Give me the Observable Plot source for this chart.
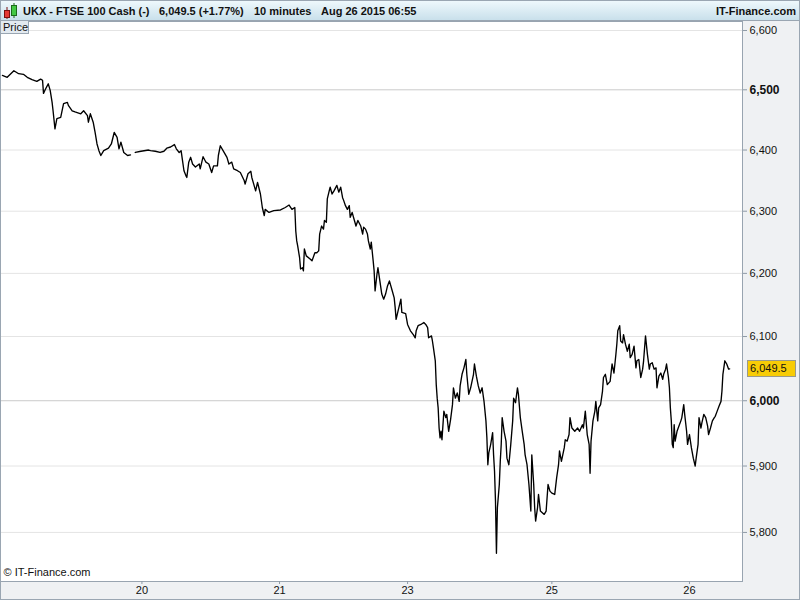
<!DOCTYPE html>
<html><head><meta charset="utf-8">
<script src="https://cdn.jsdelivr.net/npm/d3@7"></script>
<script src="https://cdn.jsdelivr.net/npm/@observablehq/plot@0.6"></script>
<style>
html,body{margin:0;padding:0;background:#fff;}
#wrap{position:relative;width:800px;height:600px;overflow:hidden;background:#eff1f3;font-family:"Liberation Sans",Arial,sans-serif;color:#111;}
#hdr{position:absolute;left:0;top:0;width:800px;height:21px;box-sizing:border-box;border-top:1px solid #9aa6b2;border-bottom:1px solid #9aa6b2;background:linear-gradient(#eef8fc,#c9e0eb);}
#hdr span{position:absolute;top:2px;font-weight:bold;font-size:11px;line-height:16px;white-space:nowrap;}
#hdr svg{position:absolute;left:2px;top:1px;}
#plotbox{position:absolute;left:0;top:21px;}
#price{position:absolute;left:0;top:21px;width:29px;height:13px;box-sizing:border-box;border:1px solid #9aa6b2;border-top:none;background:#e3eaf0;font-size:11px;line-height:12px;padding-left:2px;}
#last{position:absolute;left:747px;width:49px;height:17px;box-sizing:border-box;border:1px solid #9a9a8a;background:#f8cc06;font-size:11px;line-height:15px;padding-left:2px;}
#edge{position:absolute;left:0;top:0;width:800px;height:600px;box-sizing:border-box;border:1px solid #9aa6b2;pointer-events:none;}
</style>
</head><body>
<div id="wrap">
  <div id="hdr">
    <svg width="18" height="18" viewBox="0 0 18 18">
      <line x1="5" y1="5" x2="5" y2="17" stroke="#7a1010" stroke-width="1"/>
      <rect x="2.5" y="8.5" width="5" height="7" fill="#e53935" stroke="#7a1010"/>
      <line x1="12" y1="1" x2="12" y2="16" stroke="#1b6b1b" stroke-width="1"/>
      <rect x="9.5" y="3.5" width="5" height="10" fill="#43c843" stroke="#1b6b1b"/>
    </svg>
    <span id="t1" style="left:23px"></span>
    <span id="t2" style="left:159px"></span>
    <span id="t3" style="left:254px"></span>
    <span id="t4" style="left:321px"></span>
    <span id="t5" style="right:4px"></span>
  </div>
  <div id="plotbox"></div>
  <div id="price">Price</div>
  <div id="last"></div>
  <div id="edge"></div>
</div>
<script>
// ---- header texts ----
const instrument = "UKX - FTSE 100 Cash (-)";
const changePct = "+1.77%";
const interval = "10 minutes";
const stamp = "Aug 26 2015 06:55";
const brand = "IT-Finance.com";
const copyright = "\u00a9 IT-Finance.com";

// ---- x axis: 10-minute bar index (trading time) ----
const xDomain = [0, 776.5];
const xTickBars = [148, 292, 426, 577, 721];
const xTickLabels = ["20", "21", "23", "25", "26"];

// ---- y axis (log scale) ----
const yDomain = [5727.2, 6615.3];
const yTicks = [5800, 5900, 6000, 6100, 6200, 6300, 6400, 6500, 6600];
const yMajor = [6000, 6500];

// ---- series: bar index and price (null = gap) ----
const bars = [2,7,14,19,24,28,33,38,42,44,45,47,50,52,54,55,57,59,63,66,70,71,75,78,84,87,91,92,94,97,99,101,103,105,108,113,116,119,122,124,126,129,133,136,138,141,147,155,
157,162,167,171,174,178,182,184,187,189,190,192,194,195,197,199,201,204,208,209,212,215,218,221,223,227,228,230,234,237,239,242,244,248,251,255,256,259,262,263,265,267,269,272,274,276,277,281,286,293,298,302,305,308,309,310,311,313,314,
316,317,318,320,324,326,329,331,333,334,336,338,339,341,342,344,345,347,349,352,354,356,358,359,361,363,365,366,368,370,372,374,377,379,380,382,384,385,387,388,390,391,392,394,395,397,399,401,403,405,407,410,412,413,414,416,419,420,424,426,429,432,434,435,437,440,443,445,447,448,451,452,453,455,456,457,458,459,460,461,462,464,466,467,469,471,
473,474,476,478,480,481,483,485,487,488,490,492,495,496,498,500,502,504,506,508,509,510,511,513,515,516,517,518,519,520,522,523,524,525,527,529,530,532,534,536,537,539,541,542,544,546,548,549,551,553,555,556,558,559,560,562,563,565,569,571,573,575,577,580,582,584,585,587,590,591,593,595,596,598,601,604,606,609,610,612,614,616,617,618,620,622,623,625,626,628,
630,631,633,635,638,640,642,644,645,646,648,649,651,652,654,656,658,659,661,663,665,666,668,670,672,673,675,677,679,680,682,684,686,687,689,691,693,694,696,697,699,700,701,702,703,704,705,706,708,710,712,713,715,716,718,719,721,723,725,727,728,730,731,733,734,736,738,740,741,743,745,747,748,750,752,754,755,756,758,760,762,763];
const prices = [6524,6521,6532,6527,6526,6521,6517,6514,6518,6516,6494,6501,6510,6499,6479,6465,6435,6452,6454,6477,6479,6474,6465,6463,6460,6465,6457,6446,6460,6446,6429,6410,6399,6391,6399,6403,6410,6429,6421,6402,6413,6396,6391,6392,null,6396,6398,6400,
6399,6398,6396,6398,6403,6405,6409,6402,6396,6399,6388,6366,6358,6355,6380,6388,6377,6372,6377,6369,6389,6380,6377,6363,6374,6374,6391,6407,6396,6388,6377,6380,6369,6366,6363,6350,6344,6361,6365,6355,6344,6333,6347,6328,6306,6293,6303,6298,6301,6302,6306,6310,6303,6306,6268,6252,6244,6225,6207,
6209,6204,6239,6228,6223,6220,6233,6233,6236,6263,6276,6271,6285,6282,6320,6333,6339,6328,6333,6342,6331,6339,6322,6318,6309,6303,6309,6290,6298,6287,6276,6285,6276,6263,6274,6271,6263,6252,6239,6250,6220,6204,6172,6199,6209,6188,6167,6159,6167,6180,6188,6172,6161,6146,6127,6140,6159,6138,6136,6119,6109,6103,6098,6109,6117,6119,6122,6119,6114,6098,6101,6093,6083,6062,6025,6004,5989,5958,5943,5953,5940,5984,5974,5979,5953,5971,
5994,6020,6004,6012,5999,6023,6041,6051,6064,6041,6010,6020,6041,6057,6038,6023,6012,6020,5999,5969,5943,5902,5920,5933,5951,5917,5892,5847,5769,5837,5872,5907,5933,5974,5953,5938,5912,5902,5933,5969,6004,5997,6020,6010,5974,5953,5933,5917,5902,5872,5832,5917,5872,5837,5817,5837,5857,5832,5827,5832,5872,5862,5859,5857,5882,5902,5923,5907,5928,5940,5938,5948,5974,5958,5953,5958,5953,5963,5958,5984,5948,5933,5889,5938,5969,5984,5999,5969,5989,5994,
6015,6036,6041,6025,6030,6057,6043,6072,6088,6109,6117,6093,6090,6103,6088,6077,6088,6067,6072,6085,6051,6062,6064,6036,6049,6062,6101,6072,6049,6057,6059,6049,6051,6020,6038,6043,6033,6041,6049,6057,6036,6020,5989,5969,5933,5928,5963,5938,5953,5961,5969,5974,5994,5979,5953,5933,5948,5928,5912,5900,5912,5933,5974,5958,5966,5979,5974,5961,5948,5958,5969,5974,5976,5984,5992,5999,6015,6041,6062,6057,6049,6049.5];

const series = bars.map((b, i) => ({bar: b, price: prices[i]}));
const lastPrice = prices[prices.length - 1];
const fmtTick = d3.format(",");
const fmtLast = d3.format(",.1f");
const labelByBar = new Map(xTickBars.map((b, i) => [b, xTickLabels[i]]));
const yMinor = yTicks.filter(d => !yMajor.includes(d));

document.getElementById("t1").textContent = instrument;
document.getElementById("t2").textContent = `${fmtLast(lastPrice)} (${changePct})`;
document.getElementById("t3").textContent = interval;
document.getElementById("t4").textContent = stamp;
document.getElementById("t5").textContent = brand;

const chart = Plot.plot({
  width: 800, height: 579,
  marginTop: 0, marginRight: 58, marginBottom: 19, marginLeft: 0,
  style: {background: "transparent", fontFamily: "Liberation Sans, Arial, sans-serif", overflow: "visible"},
  x: {domain: xDomain, axis: null},
  y: {type: "log", domain: yDomain, axis: null},
  marks: [
    Plot.frame({fill: "#fff", stroke: "#98a4b0"}),
    Plot.ruleY(yMinor, {stroke: "#e4e4e4"}),
    Plot.ruleY(yMajor, {stroke: "#cacaca"}),
    Plot.line(series, {x: "bar", y: "price", stroke: "#000", strokeWidth: 1.35}),
    Plot.axisY({ticks: yMinor, anchor: "right", label: null, tickSize: 4, tickPadding: 3, fontSize: 11, stroke: "#8e9aa6", fill: "#111", tickFormat: fmtTick}),
    Plot.axisY({ticks: yMajor, anchor: "right", label: null, tickSize: 4, tickPadding: 3, fontSize: 12, fontWeight: "bold", stroke: "#8e9aa6", fill: "#111", tickFormat: fmtTick}),
    Plot.axisX({ticks: xTickBars, anchor: "bottom", label: null, tickSize: 3, tickPadding: 2, fontSize: 11, stroke: "#8e9aa6", fill: "#111", tickFormat: d => labelByBar.get(d)}),
    Plot.text([copyright], {frameAnchor: "bottom-left", text: d => d, textAnchor: "start", dx: 3, dy: -6, fontSize: 11, fill: "#111"})
  ]
});
document.getElementById("plotbox").appendChild(chart);

const yPix = chart.scale("y").apply(lastPrice) + 21;
const last = document.getElementById("last");
last.textContent = fmtLast(lastPrice);
last.style.top = (yPix - 8.5) + "px";
</script>
</body></html>
